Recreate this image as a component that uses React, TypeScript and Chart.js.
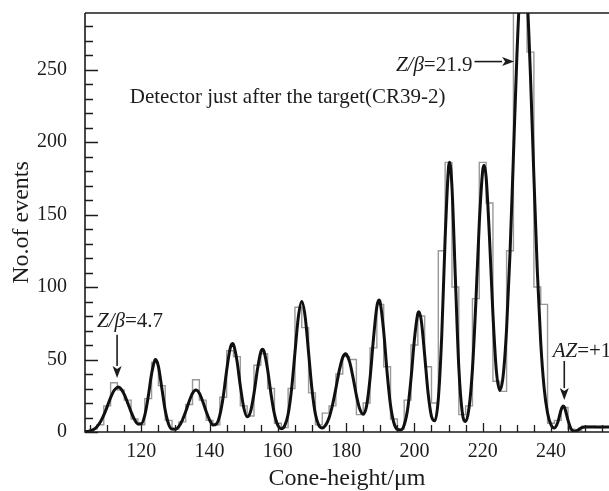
import React, { useEffect, useRef } from 'react';
import { Chart, registerables } from 'chart.js';

Chart.register(...registerables);

// Fitted curve (x in µm, y in events)
const fitCurve: [number, number][] = [
  [103.5, 0.2], [104, 0.3], [105, 0.7], [106, 1.7], [107, 3.7], [108, 6.9], [109, 11.6], [110, 17.5],
  [111, 23.7], [112, 28.6], [113, 30.9], [113.2, 31], [114, 29.9], [115, 25.9], [116, 20.1], [117, 13.9],
  [118, 8.6], [119, 5.6], [120, 5.7], [121, 11.4], [122, 24.1], [123, 40.0], [124, 49.7], [124.2, 50],
  [125, 45.3], [126, 30.3], [127, 14.9], [128, 5.4], [129, 2.0], [130, 1.9], [131, 3.9], [132, 8.1],
  [133, 14.1], [134, 21.1], [135, 26.8], [136, 29.0], [137, 26.8], [138, 21.1], [139, 14.1], [140, 8.3],
  [141, 4.9], [142, 5.5], [143, 11.6], [144, 24.5], [145, 42.5], [146, 57.4], [146.7, 61], [147, 60.3],
  [148, 49.4], [149, 31.8], [150, 16.9], [151, 10.5], [152, 14.1], [153, 26.5], [154, 43.0], [155, 55.2],
  [155.5, 57], [156, 55.2], [157, 43.0], [158, 26.1], [159, 12.3], [160, 4.5], [161, 2.3], [162, 4.3],
  [163, 12.2], [164, 29.2], [165, 54.6], [166, 79.4], [167, 90], [168, 79.4], [169, 54.6], [170, 29.2],
  [171, 12.2], [172, 4.6], [173, 2.8], [174, 4.7], [175, 9.8], [176, 18.6], [177, 30.2], [178, 42.5],
  [179, 51.5], [179.8, 54], [180, 53.8], [181, 48.5], [182, 37.8], [183, 25.3], [184, 15.8], [185, 12.2],
  [186, 18.2], [187, 36.9], [188, 64.2], [189, 86.6], [189.6, 91], [190, 89.0], [191, 69.4], [192, 41.0],
  [193, 18.4], [194, 6.2], [195, 1.8], [196, 1.4], [197, 4.8], [198, 15.5], [199, 36.7], [200, 63.9],
  [201, 81.8], [201.3, 83], [202, 77.0], [203, 53.1], [204, 27.0], [205, 10.8], [206, 7.7], [207, 22.8],
  [208, 66.2], [209, 133.7], [210, 182.8], [210.3, 186], [211, 169.0], [212, 105.8], [213, 44.8], [214, 13.9],
  [215, 7.3], [216, 16.7], [217, 43.4], [218, 89.6], [219, 144.1], [220, 180.3], [220.4, 184], [221, 175.9],
  [222, 133.6], [223, 81.1], [224, 42.3], [225, 28.7], [226, 38.9], [227, 71.2], [228, 123.2], [229, 190.1],
  [230, 258.2], [231, 308.8], [231.9, 325], [233, 300.9], [234, 245.4], [235, 176.2], [236, 111.2], [237, 61.8],
  [238, 30.3], [239, 13.1], [240, 5.0], [241, 2.7], [242, 6.7], [243, 15.5], [243.6, 18], [244, 16.8],
  [245, 8.0], [246, 1.7], [247, 0.5], [248, 1.5], [249, 3.0], [250, 3.5], [251, 3.5], [252, 3.5],
  [253, 3.5], [254, 3.5], [255, 3.5], [256, 3.5], [257, 3.5],
];

// Histogram (2 µm bins)
const binCenters = [
  104, 106, 108, 110, 112, 114, 116, 118, 120, 122, 124, 126, 128, 130, 132, 134, 136, 138, 140, 142,
  144, 146, 148, 150, 152, 154, 156, 158, 160, 162, 164, 166, 168, 170, 172, 174, 176, 178, 180, 182,
  184, 186, 188, 190, 192, 194, 196, 198, 200, 202, 204, 206, 208, 210, 212, 214, 216, 218, 220, 222,
  224, 226, 228, 230, 232, 234, 236, 238, 240, 242, 244, 246, 248, 250, 252, 254, 256,
];
const binCounts = [
  0, 2, 5, 18, 34, 29, 22, 9, 5, 23, 48, 32, 8, 2, 7, 19, 36, 22, 8, 5,
  24, 56, 52, 18, 11, 46, 54, 30, 6, 3, 30, 86, 72, 27, 5, 13, 18, 40, 52, 50,
  12, 20, 58, 88, 45, 9, 2, 22, 60, 80, 45, 20, 125, 186, 100, 12, 18, 92, 186, 158,
  35, 28, 125, 305, 320, 262, 100, 88, 6, 8, 17, 2, 1, 4, 4, 3, 3,
];

const xTickValues = [120, 140, 160, 180, 200, 220, 240];
const yTickValues = [0, 50, 100, 150, 200, 250];
const xRange = [103.5, 257];
const yRange = [0, 289];

// Annotations (data coordinates)
const noteTexts: { x: number; y: number; parts: [string, boolean][]; align: 'left' | 'right' }[] = [
  { x: 116.6, y: 230.7, parts: [['Detector just after the target(CR39-2)', false]], align: 'left' },
  { x: 217, y: 253, parts: [['Z/β', true], ['=21.9', false]], align: 'right' },
  { x: 107, y: 76, parts: [['Z/β', true], ['=4.7', false]], align: 'left' },
  { x: 240.5, y: 55.5, parts: [['AZ', true], ['=+1', false]], align: 'left' },
];
const noteArrows = [
  { x1: 217.6, y1: 255.5, x2: 229.2, y2: 255.5 },
  { x1: 112.9, y1: 67, x2: 112.9, y2: 37.3 },
  { x1: 243.9, y1: 49, x2: 243.9, y2: 22 },
];

const FONT = '"Liberation Serif", "Times New Roman", serif';
const INK = '#1c1c1c';

const decorPlugin = {
  id: 'decor',
  afterDraw(chart: any) {
    const { ctx, chartArea, scales } = chart;
    const xs = scales.x;
    const ys = scales.y;
    const { left, right, top, bottom } = chartArea;
    ctx.save();
    ctx.strokeStyle = INK;
    ctx.lineWidth = 1.6;
    ctx.beginPath();
    ctx.moveTo(left, top);
    ctx.lineTo(right, top);
    ctx.moveTo(left, top);
    ctx.lineTo(left, bottom);
    ctx.lineTo(right, bottom);
    ctx.stroke();

    ctx.lineWidth = 1.3;
    ctx.beginPath();
    for (let v = 0; v <= yRange[1]; v += 10) {
      const py = Math.round(ys.getPixelForValue(v)) + 0.5;
      const len = v % 50 === 0 ? 13 : 8;
      ctx.moveTo(left, py);
      ctx.lineTo(left + len, py);
    }
    for (let v = 105; v <= xRange[1]; v += 5) {
      const px = Math.round(xs.getPixelForValue(v)) + 0.5;
      const len = v % 20 === 0 ? 9 : 7;
      ctx.moveTo(px, bottom);
      ctx.lineTo(px, bottom - len);
    }
    ctx.stroke();

    // texts
    ctx.fillStyle = INK;
    ctx.textBaseline = 'middle';
    ctx.textAlign = 'left';
    for (const n of noteTexts) {
      const widths = n.parts.map(([t, it]) => {
        ctx.font = `${it ? 'italic ' : ''}21px ${FONT}`;
        return ctx.measureText(t).width;
      });
      const total = widths.reduce((a, b) => a + b, 0);
      let px = xs.getPixelForValue(n.x);
      if (n.align === 'right') px -= total;
      const py = ys.getPixelForValue(n.y);
      n.parts.forEach(([t, it], i) => {
        ctx.font = `${it ? 'italic ' : ''}21px ${FONT}`;
        ctx.fillText(t, px, py);
        px += widths[i];
      });
    }

    // arrows
    ctx.lineWidth = 1.6;
    for (const a of noteArrows) {
      const x1 = xs.getPixelForValue(a.x1), y1 = ys.getPixelForValue(a.y1);
      const x2 = xs.getPixelForValue(a.x2), y2 = ys.getPixelForValue(a.y2);
      const ang = Math.atan2(y2 - y1, x2 - x1);
      const hl = 12, hw = 4.5;
      const bx = x2 - hl * Math.cos(ang), by = y2 - hl * Math.sin(ang);
      ctx.beginPath();
      ctx.moveTo(x1, y1);
      ctx.lineTo(bx, by);
      ctx.stroke();
      ctx.beginPath();
      ctx.moveTo(x2, y2);
      ctx.lineTo(bx - hw * Math.sin(ang), by + hw * Math.cos(ang));
      ctx.lineTo(x2 - (hl - 3) * Math.cos(ang), y2 - (hl - 3) * Math.sin(ang));
      ctx.lineTo(bx + hw * Math.sin(ang), by - hw * Math.cos(ang));
      ctx.closePath();
      ctx.fill();
    }
    ctx.restore();
  },
};

export default function App() {
  const ref = useRef<HTMLCanvasElement>(null);
  useEffect(() => {
    document.body.style.margin = '0';
    const chart = new Chart(ref.current as HTMLCanvasElement, {
      type: 'line',
      data: {
        datasets: [
          {
            label: 'fit',
            data: fitCurve.map(([x, y]) => ({ x, y })),
            borderColor: '#101010',
            borderWidth: 3,
            pointRadius: 0,
            cubicInterpolationMode: 'monotone',
            fill: false,
            order: 1,
          },
          {
            label: 'histogram',
            data: binCenters.map((x, i) => ({ x, y: binCounts[i] })),
            borderColor: '#999999',
            borderWidth: 1.4,
            pointRadius: 0,
            stepped: 'middle',
            fill: false,
            order: 2,
          },
        ],
      } as any,
      options: {
        responsive: false,
        animation: false,
        devicePixelRatio: 1,
        layout: { padding: { top: 13, right: 0, bottom: 0, left: 0 } },
        plugins: { legend: { display: false }, tooltip: { enabled: false } },
        scales: {
          x: {
            type: 'linear',
            min: xRange[0],
            max: xRange[1],
            grid: { display: false, drawTicks: false },
            border: { display: false },
            afterBuildTicks: (s: any) => {
              s.ticks = xTickValues.map((v) => ({ value: v }));
            },
            afterFit: (s: any) => {
              s.height = 59;
              s.paddingLeft = 0;
              s.paddingRight = 0;
            },
            ticks: {
              font: { family: FONT, size: 20 },
              color: INK,
              padding: 8,
              maxRotation: 0,
              autoSkip: false,
            },
            title: {
              display: true,
              text: 'Cone-height/μm',
              font: { family: FONT, size: 24, lineHeight: 1 },
              color: INK,
              padding: { top: 0, bottom: 0 },
            },
          },
          y: {
            type: 'linear',
            min: yRange[0],
            max: yRange[1],
            grid: { display: false, drawTicks: false },
            border: { display: false },
            afterBuildTicks: (s: any) => {
              s.ticks = yTickValues.map((v) => ({ value: v }));
            },
            afterFit: (s: any) => {
              s.width = 85;
              s.paddingTop = 0;
              s.paddingBottom = 0;
            },
            ticks: {
              font: { family: FONT, size: 20 },
              color: INK,
              padding: 18,
            },
            title: {
              display: true,
              text: 'No.of events',
              font: { family: FONT, size: 24, lineHeight: 1 },
              color: INK,
              padding: { top: 10, bottom: 0 },
            },
          },
        },
      } as any,
      plugins: [decorPlugin],
    });
    return () => chart.destroy();
  }, []);
  return <canvas ref={ref} width={609} height={491} style={{ display: 'block' }} />;
}
